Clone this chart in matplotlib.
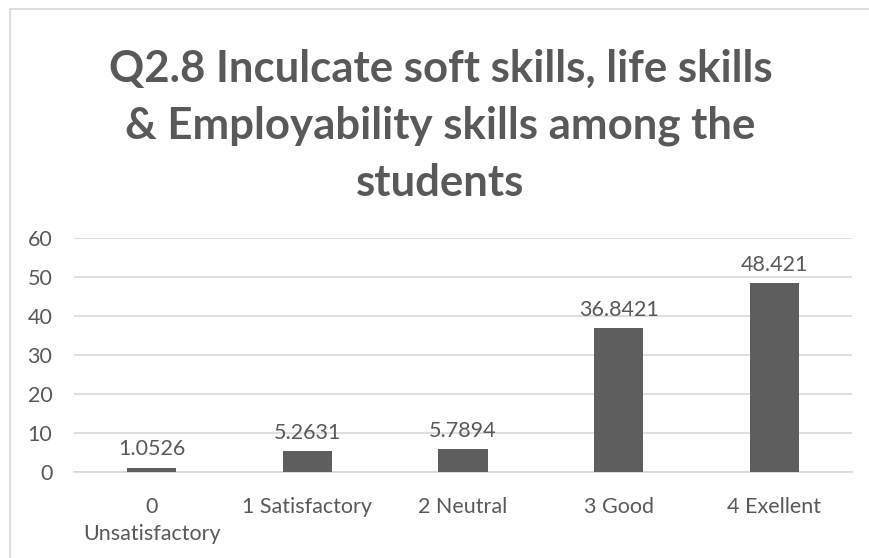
import matplotlib
matplotlib.use("Agg")
import matplotlib.pyplot as plt
from matplotlib.patches import Rectangle

categories = ["0\nUnsatisfactory", "1 Satisfactory", "2 Neutral", "3 Good", "4 Exellent"]
values = [1.0526, 5.2631, 5.7894, 36.8421, 48.421]
labels = ["1.0526", "5.2631", "5.7894", "36.8421", "48.421"]
yticks = [0, 10, 20, 30, 40, 50, 60]

plt.rcParams['font.family'] = ['Lato', 'DejaVu Sans']
textColor = "#595959"
barColor = "#5e5e5e"
gridColor = "#d9d9d9"

W, H = 869, 558
fig = plt.figure(figsize=(W / 100, H / 100), dpi=100)

# outer chart border (Excel style)
fig.patches.append(Rectangle((10 / W, -0.1), 1.2, 1.1 - 9 / H, transform=fig.transFigure,
                             fill=False, edgecolor=gridColor, linewidth=1.2))

ax = fig.add_axes([74 / W, 1 - 472 / H, (852 - 74) / W, (472 - 238) / H])
x = range(len(categories))
ax.bar(x, values, width=0.315, color=barColor, zorder=3)
for xi, v, lab in zip(x, values, labels):
    ax.text(xi, v + 2.2, lab, ha="center", va="bottom", fontsize=15.5, color=textColor)

ax.set_xlim(-0.5, len(categories) - 0.5)
ax.set_ylim(0, 60)
ax.set_yticks(yticks)
ax.set_xticks(list(x))
ax.set_xticklabels(categories)
ax.yaxis.grid(True, color=gridColor, linewidth=1.2, zorder=0)
for s in ["top", "right", "left"]:
    ax.spines[s].set_visible(False)
ax.spines["bottom"].set_color(gridColor)
ax.spines["bottom"].set_linewidth(1.2)
ax.tick_params(axis="both", length=0, labelsize=15.5, labelcolor=textColor)
ax.tick_params(axis="x", pad=18)
ax.tick_params(axis="y", pad=15.5)
for t in ax.get_xticklabels():
    t.set_linespacing(1.45)

fig.text(0.507, 1 - 126 / H, "Q2.8 Inculcate soft skills, life skills\n& Employability skills among the\nstudents",
         ha="center", va="center", fontsize=31.5, fontweight="bold", color=textColor, linespacing=1.52)

fig.savefig("out.png", dpi=100)
